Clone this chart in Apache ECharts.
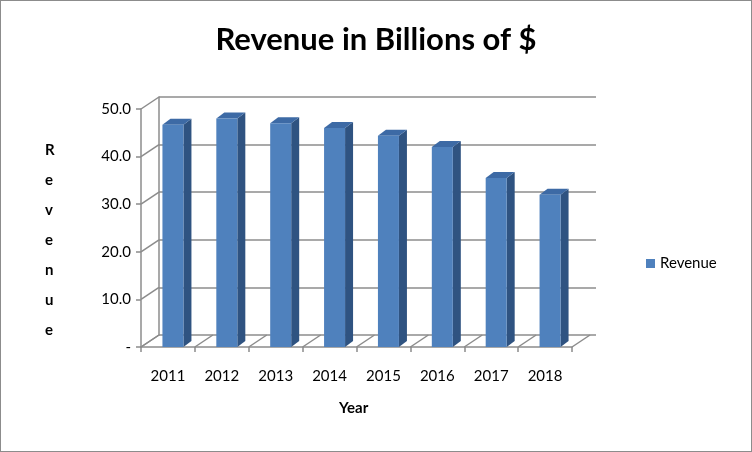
<!DOCTYPE html>
<html lang="en">
  <head>
    <meta charset="UTF-8" />
    <script src="https://cdn.jsdelivr.net/npm/echarts@6/dist/echarts.min.js"></script>
    <style>
      html, body { margin: 0; overflow: hidden; }
      #viewport { position: absolute; left: 0; top: 0; width: 752px; height: 452px; box-sizing: border-box; border: 1px solid #8c8c8c; background: #fff; }
    </style>
  </head>
  <body>
    <div id="viewport"></div>
    <script>
      var years = ['2011', '2012', '2013', '2014', '2015', '2016', '2017', '2018'];
      var revenue = [46.7, 48.0, 47.0, 46.0, 44.4, 42.0, 35.5, 32.0];
      var ticks = [0, 10, 20, 30, 40, 50];

      var DX = 18, DY = -12;
      var font = 'Lato, "Open Sans", sans-serif';
      var gridColor = '#8c8c8c';

      var myChart = echarts.init(document.getElementById('viewport'));

      function renderFrame(params, api) {
        var cs = params.coordSys;
        var children = [];
        ticks.forEach(function (v) {
          var y = api.coord([0, v])[1];
          children.push({ type: 'line', shape: { x1: cs.x, y1: y, x2: cs.x + DX, y2: y + DY }, style: { stroke: gridColor, lineWidth: 1.5 } });
        });
        var yb = api.coord([0, 0])[1];
        var w = cs.width / years.length;
        for (var i = 0; i <= years.length; i++) {
          var x = cs.x + i * w;
          children.push({ type: 'line', shape: { x1: x, y1: yb, x2: x + DX, y2: yb + DY }, style: { stroke: gridColor, lineWidth: 1.5 } });
        }
        return { type: 'group', children: children };
      }

      function renderBar(params, api) {
        var top = api.coord([api.value(0), api.value(1)]);
        var base = api.coord([api.value(0), 0]);
        var bw = 21, d = 8, h = -6;
        var x0 = top[0] + 5 - bw / 2, x1 = x0 + bw;
        return {
          type: 'group',
          children: [
            { type: 'polygon', shape: { points: [[x1, top[1]], [x1 + d, top[1] + h], [x1 + d, base[1] + h], [x1, base[1]]] }, style: { fill: '#2f5381' } },
            { type: 'polygon', shape: { points: [[x0, top[1]], [x0 + d, top[1] + h], [x1 + d, top[1] + h], [x1, top[1]]] }, style: { fill: '#3d6aa5' } },
            { type: 'rect', shape: { x: x0, y: top[1], width: bw, height: base[1] - top[1] }, style: { fill: '#4f81bd' } }
          ]
        };
      }

      var option = {
        animation: false,
        title: {
          text: 'Revenue in Billions of $',
          left: 'center', top: 18,
          textStyle: { fontFamily: font, fontSize: 31, fontWeight: 'bold', color: '#000' }
        },
        legend: {
          data: [{ name: 'Revenue', icon: 'rect' }],
          left: 640, top: 250, itemWidth: 9, itemHeight: 9,
          textStyle: { fontFamily: font, fontSize: 15, color: '#000' }
        },
        graphic: [
          { type: 'text', left: 44, top: 134, style: { text: 'R\ne\nv\ne\nn\nu\ne', fontFamily: font, fontSize: 15, fontWeight: 'bold', lineHeight: 30, align: 'center', fill: '#000' } },
          { type: 'text', left: 338, top: 400, style: { text: 'Year', fontFamily: font, fontSize: 15, fontWeight: 'bold', fill: '#000' } }
        ],
        grid: [
          { left: 140, right: 179, top: 108, bottom: 104 },
          { left: 158, right: 155, top: 96, bottom: 116 }
        ],
        xAxis: [
          {
            type: 'category', data: years, gridIndex: 0,
            axisLine: { lineStyle: { color: gridColor, width: 1.5 } },
            axisTick: { show: true, length: 5, lineStyle: { color: gridColor, width: 1.5 } },
            axisLabel: { margin: 22, fontFamily: font, fontSize: 15, color: '#000' }
          },
          { type: 'category', data: years, gridIndex: 1, show: false }
        ],
        yAxis: [
          {
            type: 'value', gridIndex: 0, min: 0, max: 50, interval: 10,
            splitLine: { show: false },
            axisLine: { show: true, lineStyle: { color: gridColor, width: 1.5 } },
            axisTick: { show: true, length: 5, lineStyle: { color: gridColor, width: 1.5 } },
            axisLabel: {
              margin: 10, fontFamily: font, fontSize: 15, color: '#000',
              formatter: function (v) { return v === 0 ? '-' : v.toFixed(1); }
            }
          },
          {
            type: 'value', gridIndex: 1, min: 0, max: 50, interval: 10,
            axisLabel: { show: false }, axisTick: { show: false },
            axisLine: { show: true, lineStyle: { color: gridColor, width: 1.5 } },
            splitLine: { lineStyle: { color: gridColor, width: 1.5 } }
          }
        ],
        series: [
          { type: 'custom', name: 'frame', xAxisIndex: 0, yAxisIndex: 0, data: [[0, 0]], renderItem: renderFrame, silent: true, z: 1 },
          {
            type: 'custom', name: 'Revenue', xAxisIndex: 0, yAxisIndex: 0,
            itemStyle: { color: '#4f81bd' },
            data: revenue.map(function (v, i) { return [i, v]; }),
            encode: { x: 0, y: 1 },
            renderItem: renderBar, z: 3
          }
        ]
      };
      myChart.setOption(option);
    </script>
  </body>
</html>
